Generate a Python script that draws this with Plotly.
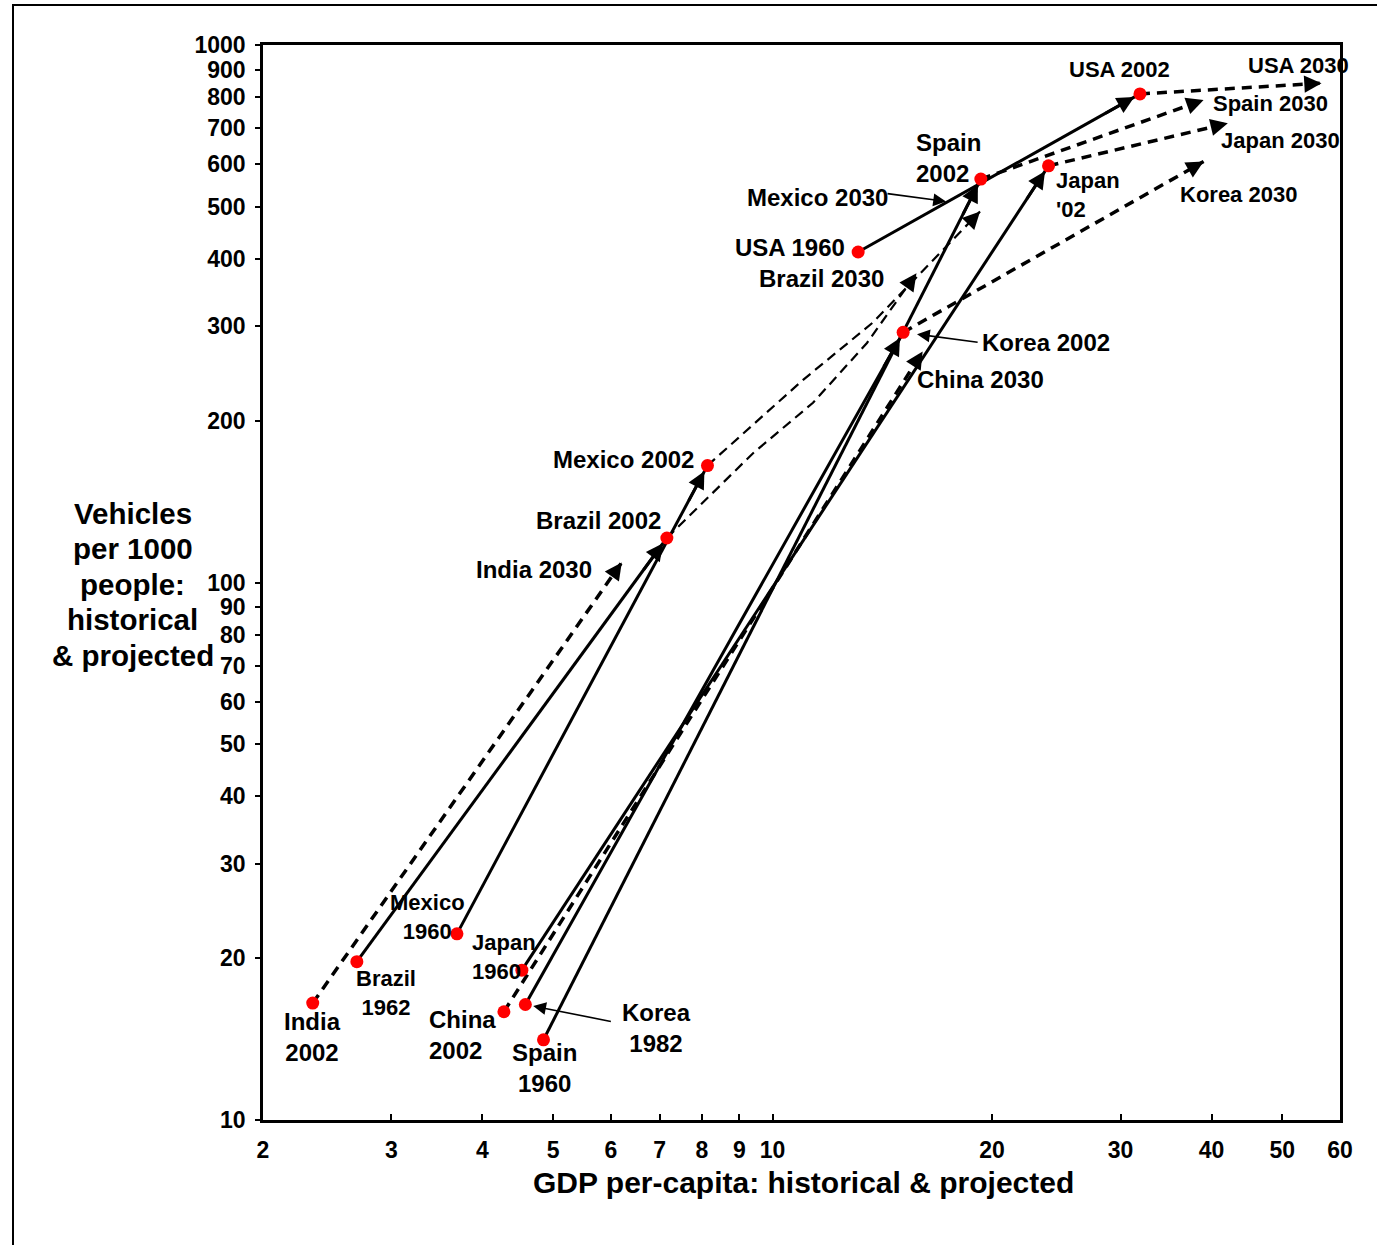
import math
import plotly.graph_objects as go

# ---------------- data ----------------
countries = ["USA", "Spain", "Japan", "Korea", "Mexico", "Brazil", "China", "India"]
start_year = ["1960", "1960", "1960", "1982", "1960", "1962", None, None]
gdp_start = [13.1, 4.85, 4.53, 4.58, 3.69, 2.69, None, None]
veh_start = [412, 14.1, 19.0, 16.4, 22.2, 19.7, None, None]
gdp_2002 = [31.9, 19.3, 23.9, 15.1, 8.14, 7.16, 4.28, 2.34]
veh_2002 = [811, 563, 596, 292, 165, 121, 15.9, 16.5]
gdp_2030 = [56.6, 39.0, 42.1, 39.0, 19.25, 15.75, 16.06, 6.21]
veh_2030 = [849, 790, 715, 607, 490, 376, 269, 109]
# intermediate points of the bent projection paths
mexico_mid_gdp = [11.0, 13.7]
mexico_mid_veh = [238, 304]
brazil_mid_gdp = [9.40, 11.36, 13.47]
brazil_mid_veh = [174, 216, 279]

x_ticks = [2, 3, 4, 5, 6, 7, 8, 9, 10, 20, 30, 40, 50, 60]
y_ticks = [10, 20, 30, 40, 50, 60, 70, 80, 90, 100, 200, 300, 400, 500, 600, 700, 800, 900, 1000]
x_title = "GDP per-capita: historical & projected"
y_title_lines = ["Vehicles", "per 1000", "people:", "historical", "& projected"]

# ---------------- layout constants ----------------
W, H = 1377, 1245
ML, MR, MT, MB = 263, 37, 45, 125
PW, PH = W - ML - MR, H - MT - MB
XR = [math.log10(2), math.log10(60)]
YR = [1, 3]
SX = PW / (XR[1] - XR[0])
SY = PH / (YR[1] - YR[0])
FONT = "Liberation Sans, Arial, sans-serif"
thin_proj = {"Mexico", "Brazil"}

fig = go.Figure()
annotations = []


def head(xe, ye, xp, yp, width, size, standoff, back_px):
    lx = math.log10(xe) - math.log10(xp)
    ly = math.log10(ye) - math.log10(yp)
    L = math.hypot(lx * SX, ly * SY)
    f = min(1.0, back_px / L)
    annotations.append(dict(
        x=math.log10(xe), y=math.log10(ye),
        ax=math.log10(xe) - f * lx, ay=math.log10(ye) - f * ly,
        xref="x", yref="y", axref="x", ayref="y",
        text="", font=dict(size=1), borderpad=0,
        showarrow=True, arrowhead=2, arrowsize=size,
        arrowwidth=width, arrowcolor="black", standoff=standoff))


# projections (dashed)
for i, c in enumerate(countries):
    xs = [gdp_2002[i]]
    ys = [veh_2002[i]]
    if c == "Mexico":
        xs += mexico_mid_gdp
        ys += mexico_mid_veh
    if c == "Brazil":
        xs += brazil_mid_gdp
        ys += brazil_mid_veh
    xs.append(gdp_2030[i])
    ys.append(veh_2030[i])
    thin = c in thin_proj
    w = 2.2 if thin else 3.5
    fig.add_trace(go.Scatter(
        x=xs, y=ys, mode="lines", showlegend=False, hoverinfo="skip",
        line=dict(color="black", width=w, dash="10px,6px" if thin else "10px,7px")))
    head(xs[-1], ys[-1], xs[-2], ys[-2], 3, 1.15, 0, 11)

# historical (solid)
for i, c in enumerate(countries):
    if gdp_start[i] is None:
        continue
    fig.add_trace(go.Scatter(
        x=[gdp_start[i], gdp_2002[i]], y=[veh_start[i], veh_2002[i]],
        mode="lines", showlegend=False, hoverinfo="skip",
        line=dict(color="black", width=3)))
    head(gdp_2002[i], veh_2002[i], gdp_start[i], veh_start[i], 3, 1.15, 6.5, 40)

# red dots
dot_x = [v for v in gdp_start if v is not None] + gdp_2002
dot_y = [v for v in veh_start if v is not None] + veh_2002
fig.add_trace(go.Scatter(
    x=dot_x, y=dot_y, mode="markers", showlegend=False, hoverinfo="skip",
    marker=dict(color="#ff0000", size=13, line=dict(width=0))))

# ---------------- labels ----------------
def pt(country, which):
    i = countries.index(country)
    if which == "start":
        return gdp_start[i], veh_start[i]
    if which == "2002":
        return gdp_2002[i], veh_2002[i]
    return gdp_2030[i], veh_2030[i]


labels = [
    ("USA 2030", "USA", "2030", "center", -23, 18, 22),
    ("USA 2002", "USA", "2002", "center", -20, 24, 22),
    ("Spain 2030", "Spain", "2030", "center", 67, -3, 22),
    ("Japan 2030", "Japan", "2030", "center", 53, -17, 22),
    ("Korea 2030", "Korea", "2030", "center", 35, -33, 22),
    ("Spain<br>2002", "Spain", "2002", "left", -67, 21, 24),
    ("Japan<br>'02", "Japan", "2002", "left", 5, -29, 22),
    ("Mexico 2030", "Mexico", "2030", "center", -163, 14, 24),
    ("USA 1960", "USA", "start", "right", -11, 4, 24),
    ("Brazil 2030", "Brazil", "2030", "right", -30, -5, 24),
    ("Korea 2002", "Korea", "2002", "left", 77, -10, 24),
    ("China 2030", "China", "2030", "left", -8, -28, 24),
    ("Mexico 2002", "Mexico", "2002", "right", -11, 6, 24),
    ("Brazil 2002", "Brazil", "2002", "right", -4, 18, 24),
    ("India 2030", "India", "2030", "right", -28, -7, 24),
    ("Mexico<br>1960", "Mexico", "start", "center", -29, 17, 22),
    ("Brazil<br>1962", "Brazil", "start", "center", 29, -31, 22),
    ("Japan<br>1960", "Japan", "start", "left", -52, 13, 22),
    ("India<br>2002", "India", "2002", "center", 0, -34, 24),
    ("China<br>2002", "China", "2002", "left", -77, -23, 24),
    ("Spain<br>1960", "Spain", "start", "center", 1, -28, 24),
    ("Korea<br>1982", "Korea", "start", "center", 131, -23, 24),
]
for text, c, which, xa, xs_, ys_, size in labels:
    px, py = pt(c, which)
    annotations.append(dict(
        x=math.log10(px), y=math.log10(py), xref="x", yref="y",
        text=text, showarrow=False, xanchor=xa, yanchor="middle", align=xa,
        xshift=xs_, yshift=ys_, font=dict(family=FONT, size=size, color="black", weight="bold")))

# thin leader arrows
leaders = [
    ("Mexico", "2030", -59, -8, -34, 10, 0),
    ("Korea", "2002", 75, 10, 0, 0, 14),
    ("Korea", "start", 86, 17, 0, 0, 8),
]
for c, which, axp, ayp, xsh, ysh, so in leaders:
    px, py = pt(c, which)
    annotations.append(dict(
        x=math.log10(px), y=math.log10(py), xref="x", yref="y",
        ax=axp, ay=ayp, axref="pixel", ayref="pixel", xshift=xsh, yshift=ysh,
        text="", font=dict(size=1), borderpad=0,
        showarrow=True, arrowhead=2, arrowsize=1.6, arrowwidth=1.6,
        arrowcolor="black", standoff=so))

# axis titles
annotations.append(dict(
    x=(803 - ML) / PW, y=(H - MB - 1182) / PH, xref="paper", yref="paper",
    text=x_title, showarrow=False, xanchor="center", yanchor="middle",
    font=dict(family=FONT, size=30, color="black", weight="bold")))
for k, line in enumerate(y_title_lines):
    annotations.append(dict(
        x=(132.5 - ML) / PW, y=(H - MB - (513 + 35.5 * k)) / PH, xref="paper", yref="paper",
        text=line, showarrow=False, xanchor="center", yanchor="middle",
        font=dict(family=FONT, size=29.5, color="black", weight="bold")))

fig.update_layout(
    width=W, height=H,
    margin=dict(l=ML, r=MR, t=MT, b=MB, pad=0),
    paper_bgcolor="white", plot_bgcolor="white",
    showlegend=False,
    annotations=annotations,
    shapes=[dict(type="rect", xref="paper", yref="paper",
                 x0=(13 - ML) / PW, x1=(W + 10 - ML) / PW,
                 y0=(H - MB - (H + 10)) / PH, y1=(H - MB - 5) / PH,
                 line=dict(color="black", width=2), fillcolor="rgba(0,0,0,0)", layer="below")],
    font=dict(family=FONT, color="black"),
)
fig.update_xaxes(
    type="log", range=XR, tickvals=x_ticks, ticktext=[str(v) for v in x_ticks],
    showgrid=False, zeroline=False, showline=True, linewidth=2.5, linecolor="black",
    mirror=True, ticks="inside", ticklen=6, tickwidth=1.5, tickcolor="black",
    tickfont=dict(family=FONT, size=23, color="black", weight="bold"), ticklabelstandoff=8)
fig.update_yaxes(
    type="log", range=YR, tickvals=y_ticks, ticktext=[str(v) for v in y_ticks],
    showgrid=False, zeroline=False, showline=True, linewidth=2.5, linecolor="black",
    mirror=True, ticks="outside", ticklen=5, tickwidth=1.5, tickcolor="black",
    tickfont=dict(family=FONT, size=23, color="black", weight="bold"), ticklabelstandoff=5)

fig.write_html("out.html", config={"displayModeBar": False},
               post_script="document.body.style.margin='0';document.body.style.overflow='hidden';")
